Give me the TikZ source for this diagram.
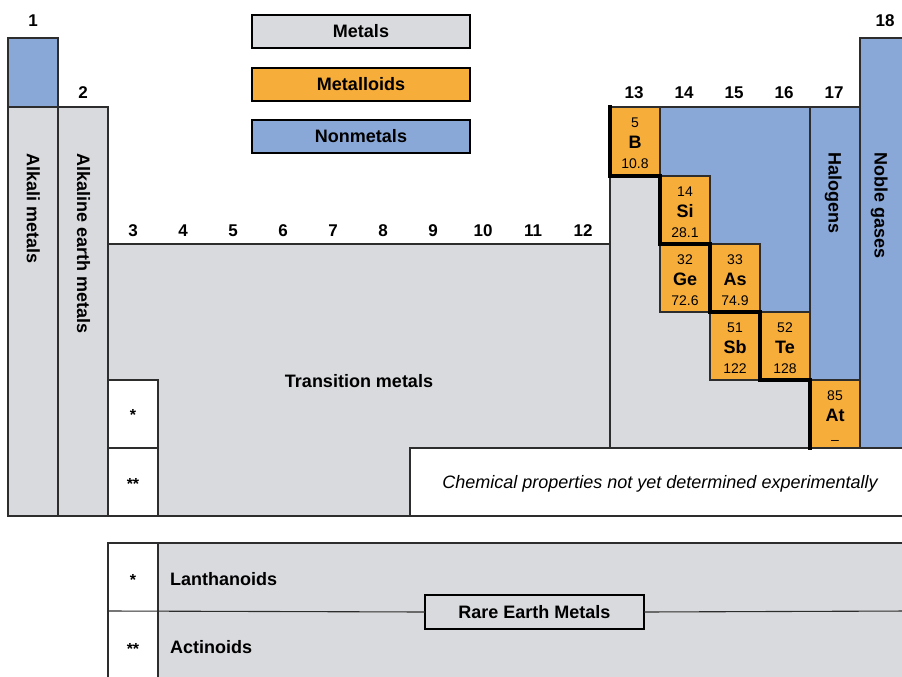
\documentclass[tikz,border=0pt]{standalone}
\usepackage{fontspec}
\setmainfont{Liberation Sans}
\definecolor{mgrey}{RGB}{217,218,222}
\definecolor{morange}{RGB}{246,173,58}
\definecolor{mblue}{RGB}{137,167,215}
\definecolor{edge}{RGB}{45,45,45}
\newcommand\elemcell[6]{%
  \node[cell] (#1) at (#2+25,#3+34) {};
  \node[znum] (#1-z) at (#2+25,#3+20) {#4};
  \node[esym] (#1-s) at (#2+25,#3+41.5) {#5};
  \node[mass] (#1-m) at (#2+25,#3+61) {#6};
}
\begin{document}
\begin{tikzpicture}[x=1pt,y=-1pt,
  bd/.style={draw=edge,line width=1.1pt},
  thickbd/.style={draw=black,line width=2.4pt},
  stair/.style={draw=black,line width=3.4pt,line join=miter,line cap=rect},
  grp/.style={font=\bfseries\fontsize{17}{20}\selectfont,anchor=base,inner sep=0pt},
  lbl/.style={font=\bfseries\fontsize{18}{21}\selectfont,anchor=base,inner sep=0pt},
  vlbl/.style={font=\bfseries\fontsize{18}{21}\selectfont,anchor=base west,rotate=-90,inner sep=0pt},
  star/.style={font=\bfseries\fontsize{16}{19}\selectfont,anchor=base,inner sep=0pt},
  cell/.style={draw=edge,fill=morange,line width=1.1pt,minimum width=50pt,minimum height=68pt,inner sep=0pt,outer sep=0pt},
  znum/.style={font=\fontsize{14}{16}\selectfont,anchor=base,inner sep=0pt},
  esym/.style={font=\bfseries\fontsize{18}{21}\selectfont,anchor=base,inner sep=0pt},
  mass/.style={font=\fontsize{14}{16}\selectfont,anchor=base,inner sep=0pt},
  legbox/.style={thickbd,minimum width=218pt,minimum height=33pt,inner sep=0pt,outer sep=0pt,
    font=\bfseries\fontsize{18}{21}\selectfont,text height=12.9pt,text depth=0pt},
  emptybox/.style={bd,fill=white,minimum width=50pt,minimum height=68pt,inner sep=0pt,outer sep=0pt}
]
\useasboundingbox (0,0) rectangle (902,677);
\begin{scope}
\clip (0,0) rectangle (902,677);
% ---------- fills and borders of regions ----------
\filldraw[bd,fill=mblue] (8,38) rectangle (58,107);
\filldraw[bd,fill=mgrey] (8,107) rectangle (58,516);
\filldraw[bd,fill=mgrey] (58,107) rectangle (108,516);
\filldraw[bd,fill=mgrey] (108,244) rectangle (610,516);
\filldraw[bd,fill=mgrey] (610,176) -- (660,176) -- (660,312) -- (710,312) -- (710,380) -- (810,380) -- (810,448) -- (610,448) -- cycle;
\filldraw[bd,fill=mblue] (660,107) -- (810,107) -- (810,312) -- (760,312) -- (760,244) -- (710,244) -- (710,176) -- (660,176) -- cycle;
\filldraw[bd,fill=mblue] (810,107) rectangle (860,380);
\filldraw[bd,fill=mblue] (860,38) rectangle (912,448);
% white box
\node[bd,fill=white,minimum width=502pt,minimum height=68pt,inner sep=0pt,outer sep=0pt,anchor=north west] (nodet) at (410,448) {};
\node[font=\itshape\fontsize{18}{21}\selectfont,anchor=base,inner sep=0pt] (nodettxt) at (660,488.5) {Chemical properties not yet determined experimentally};
% star boxes
\node[emptybox] (sb1) at (133,414) {};
\node[emptybox] (sb2) at (133,482) {};
\node[star] (sb1t) at (133,420) {*};
\node[star] (sb2t) at (133,489) {**};
% elements
\elemcell{eB}{610}{107}{5}{B}{10.8}
\elemcell{eSi}{660}{176}{14}{Si}{28.1}
\elemcell{eGe}{660}{244}{32}{Ge}{72.6}
\elemcell{eAs}{710}{244}{33}{As}{74.9}
\elemcell{eSb}{710}{312}{51}{Sb}{122}
\elemcell{eTe}{760}{312}{52}{Te}{128}
\elemcell{eAt}{810}{380}{85}{At}{\raisebox{-3pt}{–}}
% staircase
\draw[stair] (eB.north west) |- (eSi.north west) |- (eAs.north west) |- (eTe.north west) |- (eAt.north west) -- (eAt.south west);
% ---------- group numbers ----------
\node[grp] (g1) at (33,27) {1};
\node[grp] (g2) at (83,99) {2};
\foreach \g in {3,...,12}{
  \node[grp] (g\g) at ({133+50*(\g-3)},236) {\g};
}
\foreach \g in {13,...,17}{
  \node[grp] (g\g) at ({634+50*(\g-13)},99) {\g};
}
\node[grp] (g18) at (885,26.5) {18};
% ---------- vertical labels ----------
\node[vlbl] (alk) at (27,153) {Alkali metals};
\node[vlbl] (alke) at (77,153) {Alkaline earth metals};
\node[vlbl] (hal) at (828.5,152) {Halogens};
\node[vlbl] (nob) at (874.5,152) {Noble gases};
\node[lbl] (trans) at (359,387.5) {Transition metals};
% ---------- legend ----------
\node[legbox,fill=mgrey] (legm) at (361,31.5) {Metals};
\node[legbox,fill=morange] (lego) at (361,84.5) {Metalloids};
\node[legbox,fill=mblue] (legn) at (361,136.5) {Nonmetals};
% ---------- bottom block ----------
\filldraw[bd,fill=mgrey] (108,543) rectangle (912,700);
\filldraw[bd,fill=white] (108,543) rectangle (158,700);
\node[legbox,fill=mgrey,minimum width=219pt,minimum height=34pt] (rare) at (534.5,612) {Rare Earth Metals};
\coordinate (rl) at (108,611);
\coordinate (rr) at (910,611);
\draw[bd] (rl) -- (rare.west);
\draw[bd] (rare.east) -- (rr);
\node[star] (lst) at (133,585) {*};
\node[star] (ast) at (133,654) {**};
\node[lbl,anchor=base west] (lan) at (170,585.5) {Lanthanoids};
\node[lbl,anchor=base west] (act) at (170,653.5) {Actinoids};
\end{scope}
\end{tikzpicture}
\end{document}
